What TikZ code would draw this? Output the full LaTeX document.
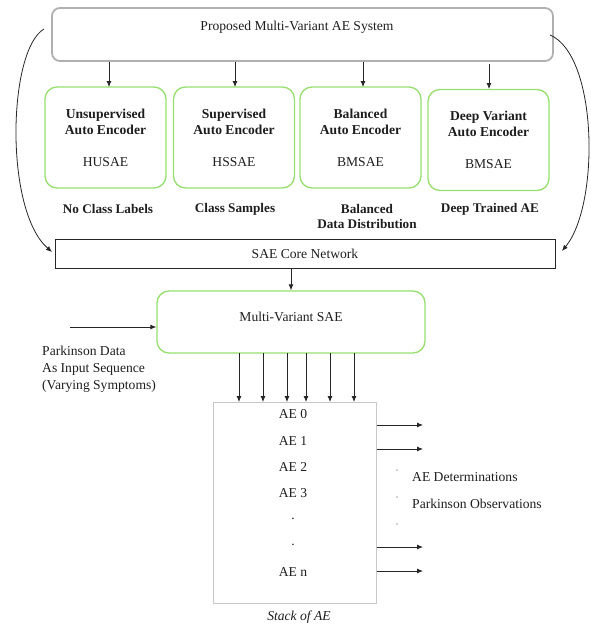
\documentclass[tikz,border=0pt]{standalone}
\usepackage{fontspec}
\setmainfont{Liberation Serif}
\usetikzlibrary{arrows.meta}
\definecolor{boxgreen}{RGB}{150,222,110}
\definecolor{boxgray}{RGB}{176,176,176}
\definecolor{stackgray}{RGB}{200,200,200}
\definecolor{txt}{RGB}{30,30,30}
\tikzset{
  base/.style={font=\fontsize{13.6}{16}\selectfont, text=txt},
  topbox/.style={draw=boxgray, line width=1.8pt, rounded corners=8pt, minimum width=501pt, minimum height=53pt, inner sep=0pt},
  aebox/.style={draw=boxgreen, line width=1.3pt, rounded corners=12pt, minimum width=121pt, minimum height=101pt, inner sep=0pt, align=center, base},
  mvbox/.style={draw=boxgreen, line width=1.3pt, rounded corners=12pt, minimum width=268pt, minimum height=62pt, inner sep=0pt},
  corebox/.style={draw=black!85, line width=1pt, minimum width=500pt, minimum height=29pt, inner sep=0pt, base},
  stackbox/.style={draw=stackgray, line width=1pt, minimum width=163pt, minimum height=201pt, inner sep=0pt},
  lbl/.style={base, font=\fontsize{13.2}{15}\selectfont\bfseries, align=center},
  txtnode/.style={base, inner sep=0pt},
  arr/.style={-{Latex[length=6pt,width=5pt]}, line width=0.8pt, draw=black!85},
}
\begin{document}
\begin{tikzpicture}[x=1pt,y=-1pt]
\useasboundingbox (0,0) rectangle (591,625);
% top box
\node[topbox] (top) at (302.5,34.5) {};
\node[txtnode] (toptxt) at (297,27) {Proposed Multi-Variant AE System};
% AE boxes
\node[aebox] (b1) at (105.5,137.5) {\textbf{Unsupervised}\\\textbf{Auto Encoder}\\[16pt]HUSAE};
\node[aebox] (b2) at (234,137.5) {\textbf{Supervised}\\\textbf{Auto Encoder}\\[16pt]HSSAE};
\node[aebox] (b3) at (360.5,137.5) {\textbf{Balanced}\\\textbf{Auto Encoder}\\[16pt]BMSAE};
\node[aebox] (b4) at (488.5,140) {\textbf{Deep Variant}\\\textbf{Auto Encoder}\\[16pt]BMSAE};
% arrows from top
\draw[arr] (top.south -| 109,0) -- (109,87);
\draw[arr] (top.south -| 235,0) -- (235,87);
\draw[arr] (top.south -| 363,0) -- (363,87);
\draw[arr] (489,64) -- (489,89);
% labels under boxes
\node[lbl] (l1) at (108,209) {No Class Labels};
\node[lbl] (l2) at (235,209) {Class Samples};
\node[lbl] (l3) at (367,216.5) {Balanced\\Data Distribution};
\node[lbl] (l4) at (490,209) {Deep Trained AE};
% core
\node[corebox] (core) at (305,253.5) {SAE Core Network};
% side arcs
\coordinate (la) at (44,29);
\coordinate (ra) at (550,35);
\coordinate (lt) at (52,252);
\coordinate (rt) at (562,251);
\draw[arr] (la) .. controls (8,50) and (4,210) .. (lt);
\draw[arr] (ra) .. controls (598,55) and (600,205) .. (rt);
% multi-variant
\node[mvbox] (mv) at (291,322) {};
\node[txtnode] (mvtxt) at (291,317) {Multi-Variant SAE};
\draw[arr] (core.south -| mv.north) -- (mv.north);
% input
\coordinate (in) at (70,327);
\draw[arr] (in) -- (in -| mv.west);
\node[txtnode, anchor=west, align=left, font=\fontsize{13.6}{17}\selectfont] (pd) at (42,369) {Parkinson Data\\As Input Sequence\\(Varying Symptoms)};
% stack
\node[stackbox] (stack) at (294.5,502.5) {};
\foreach \xx in {239,263,287,306,330,354} {
  \draw[arr] (\xx,353) -- (\xx,402);
}
\node[txtnode] (ae0) at (293,414) {AE 0};
\node[txtnode] (ae1) at (293,441) {AE 1};
\node[txtnode] (ae2) at (293,467) {AE 2};
\node[txtnode] (ae3) at (293,493) {AE 3};
\node[txtnode] (d1) at (293,519) {.};
\node[txtnode] (d2) at (293,545) {.};
\node[txtnode] (aen) at (293,572) {AE n};
\node[txtnode, font=\fontsize{13.6}{16}\selectfont\itshape] (soa) at (299,617) {Stack of AE};
\foreach \yy/\nm in {425/o1,449/o2,547/o3,571/o4} {
  \coordinate (\nm) at (423,\yy);
  \draw[arr] (stack.east |- \nm) -- (\nm);
}
\node[txtnode, font=\fontsize{9}{10}\selectfont] (bu1) at (397,472) {·};
\node[txtnode, font=\fontsize{9}{10}\selectfont] (bu2) at (397,499) {·};
\node[txtnode, font=\fontsize{9}{10}\selectfont] (bu3) at (397,526) {·};
\node[txtnode, anchor=west] (t1) at (412,477) {AE Determinations};
\node[txtnode, anchor=west] (t2) at (412,504) {Parkinson Observations};
\end{tikzpicture}
\end{document}
